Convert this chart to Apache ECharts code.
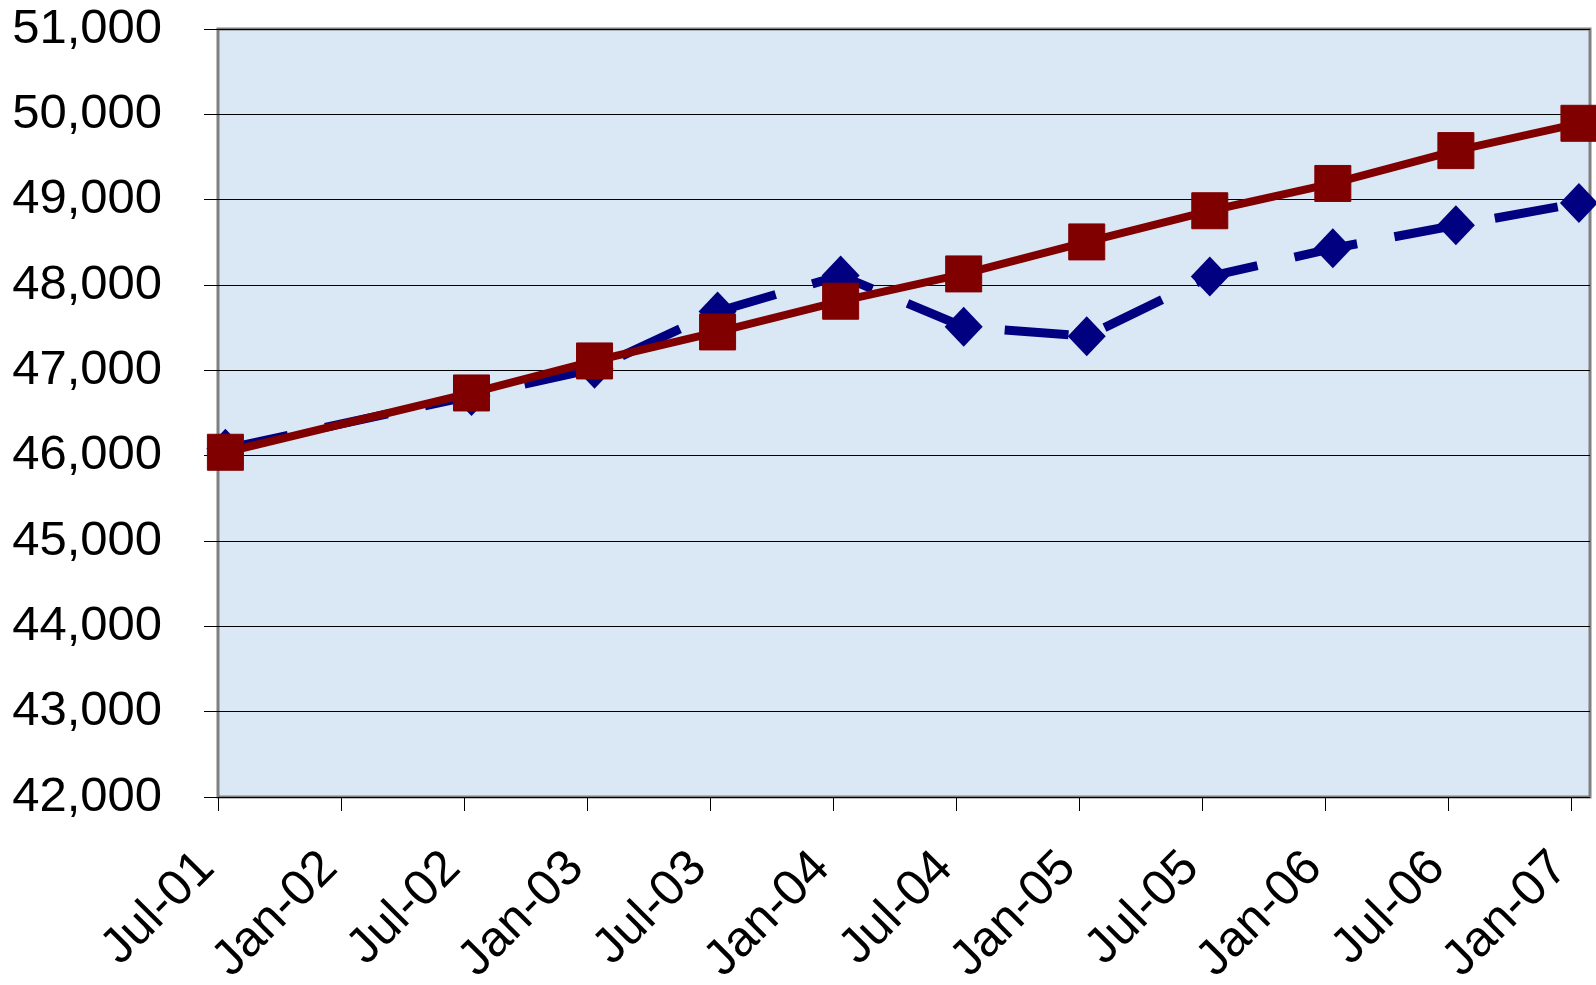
<!DOCTYPE html>
<html>
<head>
<meta charset="utf-8">
<title>chart</title>
<script src="https://cdn.jsdelivr.net/npm/echarts@6/dist/echarts.min.js"></script>
<style>
  html, body { margin: 0; padding: 0; background: #fff; }
  #chart { width: 1596px; height: 985px; }
</style>
</head>
<body>
<div id="chart"></div>
<script>
// x轴刻度标签
var tickLabels = ['Jul-01', 'Jan-02', 'Jul-02', 'Jan-03', 'Jul-03', 'Jan-04', 'Jul-04', 'Jan-05', 'Jul-05', 'Jan-06', 'Jul-06', 'Jan-07'];
// 数据点日期
var pointDates = ['2001-07-12', '2002-07-12', '2003-01-12', '2003-07-12', '2004-01-12', '2004-07-12', '2005-01-12', '2005-07-12', '2006-01-12', '2006-07-12', '2007-01-12'];
// 蓝色虚线（菱形）
var blueValues = [46080, 46700, 47020, 47690, 48110, 47510, 47400, 48100, 48430, 48700, 48960];
// 红色实线（方块）
var redValues = [46040, 46735, 47110, 47450, 47810, 48130, 48505, 48870, 49190, 49575, 49895];

var monthNames = ['Jan', 'Feb', 'Mar', 'Apr', 'May', 'Jun', 'Jul', 'Aug', 'Sep', 'Oct', 'Nov', 'Dec'];
var startYear = 2001, startMonth = 7;

// 日期 -> 距 2001-07 的月数
function dateToMonths(str) {
  var p = str.split('-');
  var y = +p[0], m = +p[1], d = +p[2];
  return (y - startYear) * 12 + (m - startMonth) + (d - 1) / 30.5;
}
// 'Jul-01' -> 月数
function labelToMonths(lbl) {
  var p = lbl.split('-');
  var m = monthNames.indexOf(p[0]) + 1;
  var y = 2000 + (+p[1]);
  return (y - startYear) * 12 + (m - startMonth);
}

var tickPositions = tickLabels.map(labelToMonths);
var labelMap = {};
tickLabels.forEach(function (l, i) { labelMap[tickPositions[i]] = l; });

function buildData(values) {
  return values.map(function (v, i) { return [dateToMonths(pointDates[i]), v]; });
}

var font = 'Liberation Sans, Arial, sans-serif';
var chart = echarts.init(document.getElementById('chart'));
var option = {
  animation: false,
  grid: {
    left: 218, top: 29, right: 6, bottom: 188,
    outerBoundsMode: 'none',
    containLabel: false,
    show: true,
    backgroundColor: '#dae7f5',
    borderColor: '#808080',
    borderWidth: 3
  },
  xAxis: {
    type: 'value',
    min: 0,
    max: 66.9,
    axisLine: { show: false },
    splitLine: { show: false },
    axisTick: {
      show: true,
      length: 14,
      customValues: tickPositions,
      lineStyle: { color: '#000', width: 1 }
    },
    axisLabel: {
      customValues: tickPositions,
      rotate: 45,
      margin: 52,
      padding: [0, 16, 0, 0],
      fontSize: 50,
      color: '#000',
      fontFamily: font,
      formatter: function (v) { return labelMap[v] || ''; }
    }
  },
  yAxis: {
    type: 'value',
    min: 42000,
    max: 51000,
    interval: 1000,
    axisLine: { show: false },
    axisTick: { show: true, length: 14, lineStyle: { color: '#000', width: 1 } },
    splitLine: { show: true, lineStyle: { color: '#000', width: 1 } },
    axisLabel: {
      margin: 56,
      fontSize: 49,
      color: '#000',
      fontFamily: font,
      formatter: function (v) { return v.toLocaleString('en-US'); }
    }
  },
  series: [
    {
      type: 'line',
      data: buildData(blueValues),
      symbol: 'diamond',
      symbolSize: [38, 40],
      itemStyle: { color: '#000080' },
      lineStyle: { color: '#000080', width: 9, type: [64, 38], cap: 'butt' }
    },
    {
      type: 'line',
      data: buildData(redValues),
      symbol: 'rect',
      symbolSize: 36,
      itemStyle: { color: '#800000', borderColor: '#800000', borderWidth: 1, borderJoin: 'round' },
      lineStyle: { color: '#800000', width: 8 }
    }
  ]
};
chart.setOption(option);
</script>
</body>
</html>
